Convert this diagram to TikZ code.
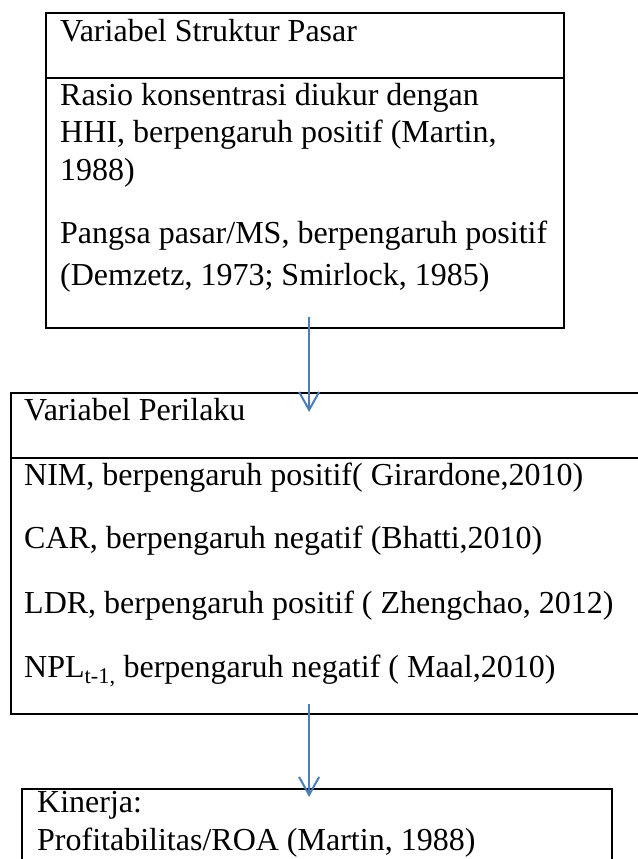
\documentclass[tikz,border=0pt]{standalone}
\usepackage{fontspec}
\setmainfont{Liberation Serif}
\usetikzlibrary{arrows.meta,positioning,calc}
\definecolor{arrowblue}{RGB}{74,126,187}

\begin{document}
\begin{tikzpicture}[x=1pt,y=-1pt,
  arr/.style={-{Straight Barb[length=18pt,width=20pt]}, line width=2pt, draw=arrowblue},
  part/.style={draw, line width=2.2pt, inner sep=0pt, anchor=north west},
  txt/.style={inner sep=0pt, anchor=base west, align=left,
              font=\fontsize{32}{37.5}\selectfont},
]
\useasboundingbox (0,0) rectangle (637,859);

% struktur pasar (text nodes sit on the baseline of their last line)
\node[part, minimum width=518pt, minimum height=65pt]  (pasarhead) at (45,12) {};
\node[part, minimum width=518pt, minimum height=250pt] (pasarbody) at (45,77) {};
\node[txt] (pasartitle) at (60,42) {Variabel Struktur Pasar};
\node[txt] (hhi) at (60,180)
  {Rasio konsentrasi diukur dengan\\
   HHI, berpengaruh positif (Martin,\\
   1988)};
\node[txt] (ms) at (60,285)
  {Pangsa pasar/MS, berpengaruh positif\\[4.5pt]
   (Demzetz, 1973; Smirlock, 1985)};

% perilaku
\node[part, minimum width=650pt, minimum height=65pt]  (perilakuhead) at (10,392) {};
\node[part, minimum width=650pt, minimum height=256pt] (perilakubody) at (10,457) {};
\node[txt] (perilakutitle) at (24,420) {Variabel Perilaku};
\node[txt] (nim) at (24,485) {NIM, berpengaruh positif( Girardone,2010)};
\node[txt] (car) at (24,548) {CAR, berpengaruh negatif (Bhatti,2010)};
\node[txt] (ldr) at (24,613) {LDR, berpengaruh positif ( Zhengchao, 2012)};
\node[txt] (npl) at (24,677) {NPL\textsubscript{t-1,} berpengaruh negatif ( Maal,2010)};

% kinerja
\node[part, minimum width=590pt, minimum height=100pt] (kinerja) at (21,788) {};
\node[txt] (kinerjatext) at (37,850)
  {Kinerja:\\
   Profitabilitas/ROA (Martin, 1988)};

\draw[arr] ($(pasarbody.south)+(4,-12)$) -- ($(pasarbody.south |- perilakuhead.north)+(4,20)$);
\draw[arr] ($(pasarbody.south |- perilakubody.south)+(4,-11)$) -- ($(pasarbody.south |- kinerja.north)+(4,9)$);
\end{tikzpicture}
\end{document}
